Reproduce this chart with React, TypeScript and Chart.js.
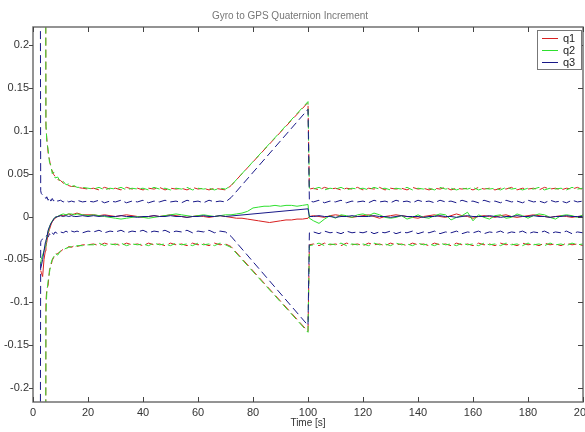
import React, { useEffect, useRef } from 'react';
import { Chart, registerables } from 'chart.js';
Chart.register(...registerables);

// time stamps [s]
const T = [
  0, 1, 2, 2.5, 2.8, 3, 3.5, 4, 4.5, 4.7, 5, 5.5, 6, 6.5, 7, 7.5, 8, 9, 10, 11, 12, 13, 14, 15, 16, 18, 20,
  22, 24, 26, 28, 30, 32, 34, 36, 38, 40, 42, 44, 46, 48, 50, 52, 54, 56, 58, 60, 62, 64, 66, 68, 70,
  72, 74, 76, 78, 80, 82, 84, 86, 88, 90, 92, 94, 96, 98, 100,
  100.5, 102, 104, 106, 108, 110, 112, 114, 116, 118, 120,
  122, 124, 126, 128, 130, 132, 134, 136, 138, 140,
  142, 144, 146, 148, 150, 152, 154, 156, 158, 160,
  162, 164, 166, 168, 170, 172, 174, 176, 178, 180,
  182, 184, 186, 188, 190, 192, 194, 196, 198, 200,
];

// estimates
const q1 = [
  null, null, null, null, -.063, -.065, -.07, -.05, -.04, -.035, -.03, -.02, -.015, -.01, -.006, -.004, -.002, 0, .001, .001, .002, .003, .002, .003, .004, .002, .002,
  .002, .001, .002, .001, 0, .001, .002, .001, 0, -.001, 0, .001, 0, .001, .002, .001, 0, -.001, 0, .001, 0, -.001, 0, .001, 0,
  -.001, -.002, -.002, -.003, -.004, -.005, -.006, -.007, -.006, -.005, -.004, -.004, -.003, -.003, -.002,
  0, .001, 0, -.001, .001, .002, .001, 0, -.001, 0, .001,
  .002, 0, -.002, 0, .001, .002, .001, 0, -.001, -.002,
  0, .001, .002, 0, -.001, .001, .003, .001, 0, -.002,
  0, .001, 0, -.001, .001, .002, 0, -.001, 0, .001,
  .002, .001, 0, -.001, 0, .001, 0, -.001, 0, .001,
];
const q2 = [
  null, null, null, null, -.055, -.05, -.045, -.04, -.035, -.03, -.025, -.018, -.012, -.008, -.005, -.003, -.001, 0, .002, .003, .002, .003, .003, .002, .003, .002, .001,
  .002, .001, 0, -.001, -.002, -.003, -.002, -.001, 0, -.001, -.002, -.001, 0, .001, .002, .003, .002, .001, 0, .001, .002, .001, 0, .001, .002,
  .002, .003, .004, .006, .01, .011, .012, .012, .013, .012, .013, .013, .012, .013, .014,
  -.002, -.005, -.008, -.003, .001, -.002, .002, .001, -.001, .002, .003,
  .001, .004, .002, -.001, -.002, -.001, .001, -.003, -.001, .002,
  -.001, -.002, .001, .003, .002, -.004, -.001, .001, .005, -.005,
  .002, -.001, -.003, .001, .002, -.002, -.001, .003, .001, -.002,
  .001, .003, .002, -.001, -.003, .001, .002, .001, -.001, .002,
];
const q3 = [
  null, null, null, null, -.06, -.058, -.05, -.04, -.03, -.028, -.025, -.016, -.012, -.008, -.006, -.003, -.001, 0, .001, 0, .001, 0, .001, 0, 0, .001, 0,
  .001, 0, .001, 0, 0, .001, 0, 0, -.001, 0, 0, .001, 0, 0, .001, 0, 0, -.001, 0, 0, .001, 0, 0, .001, 0,
  null, null, null, null, null, null, null, null, null, null, null, null, null, null, .009,
  0, 0, .001, 0, 0, -.001, 0, 0, .001, 0, 0,
  0, .001, 0, 0, -.001, 0, .001, 0, 0, 0,
  -.001, 0, 0, .001, 0, 0, -.001, 0, .001, 0,
  0, 0, .001, 0, -.001, 0, 0, .001, 0, 0,
  .001, 0, 0, -.001, 0, 0, .001, 0, 0, 0,
];

// uncertainty bounds
const q1Up = [
  .6, .6, .6, .6, .6, .6, .6, .6, .6, .105, .092, .074, .066, .057, .053, .049, .047, .043, .042, .039, .037, .036, .035, .035, .034, .033, .032,
  .033, .031, .034, .032, .033, .031, .034, .032, .033, .031, .033, .032, .034, .031, .033, .032, .033, .031, .034, .032, .033, .031, .033, .032, .031,
  .036, null, null, null, null, null, null, null, null, null, null, null, null, null, .133,
  .032, .033, .031, .034, .032, .033, .031, .033, .032, .034, .031,
  .033, .032, .034, .031, .033, .032, .033, .031, .034, .032,
  .033, .031, .033, .032, .034, .031, .033, .032, .033, .031,
  .034, .032, .033, .031, .033, .032, .034, .031, .033, .032,
  .033, .031, .034, .032, .033, .031, .033, .032, .034, .031,
];
const q1Lo = [
  -.6, -.6, -.6, -.6, -.6, -.6, -.6, -.6, -.6, -.1, -.085, -.08, -.062, -.058, -.051, -.048, -.044, -.043, -.041, -.038, -.038, -.035, -.036, -.034, -.035, -.033, -.033,
  -.032, -.034, -.031, -.033, -.032, -.034, -.031, -.033, -.032, -.034, -.031, -.033, -.032, -.034, -.031, -.033, -.032, -.034, -.031, -.033, -.032, -.034, -.031, -.033, -.032,
  -.035, null, null, null, null, null, null, null, null, null, null, null, null, null, -.134,
  -.033, -.032, -.034, -.031, -.033, -.032, -.034, -.031, -.033, -.032, -.034,
  -.031, -.033, -.032, -.034, -.031, -.033, -.032, -.034, -.031, -.033,
  -.032, -.034, -.031, -.033, -.032, -.034, -.031, -.033, -.032, -.034,
  -.031, -.033, -.032, -.034, -.031, -.033, -.032, -.034, -.031, -.033,
  -.032, -.034, -.031, -.033, -.032, -.034, -.031, -.033, -.032, -.034,
];
const q2Up = [
  .6, .6, .6, .6, .6, .6, .6, .6, .6, .11, .088, .078, .063, .06, .05, .052, .045, .046, .04, .041, .037, .038, .035, .036, .034, .034, .033,
  .032, .034, .031, .033, .032, .034, .031, .033, .032, .033, .031, .034, .032, .033, .031, .033, .032, .034, .031, .033, .032, .033, .031, .033, .032,
  .036, null, null, null, null, null, null, null, null, null, null, null, null, null, .134,
  .033, .032, .034, .031, .033, .032, .034, .031, .033, .032, .033,
  .031, .034, .032, .033, .031, .033, .032, .034, .031, .033,
  .032, .033, .031, .034, .032, .033, .031, .033, .032, .034,
  .031, .033, .032, .033, .031, .034, .032, .033, .031, .033,
  .032, .034, .031, .033, .032, .033, .031, .034, .032, .033,
];
const q2Lo = [
  -.6, -.6, -.6, -.6, -.6, -.6, -.6, -.6, -.6, -.115, -.09, -.075, -.065, -.055, -.05, -.047, -.043, -.045, -.04, -.039, -.037, -.036, -.035, -.036, -.034, -.034, -.033,
  -.033, -.031, -.034, -.032, -.033, -.031, -.034, -.032, -.033, -.032, -.034, -.031, -.033, -.032, -.034, -.031, -.033, -.032, -.034, -.031, -.033, -.032, -.034, -.031, -.033,
  -.036, null, null, null, null, null, null, null, null, null, null, null, null, null, -.135,
  -.034, -.033, -.031, -.034, -.032, -.033, -.031, -.034, -.032, -.033, -.032,
  -.034, -.031, -.033, -.032, -.034, -.031, -.033, -.032, -.034, -.031,
  -.033, -.032, -.034, -.031, -.033, -.032, -.034, -.031, -.033, -.032,
  -.034, -.031, -.033, -.032, -.034, -.031, -.033, -.032, -.034, -.031,
  -.033, -.032, -.034, -.031, -.033, -.032, -.034, -.031, -.033, -.032,
];
const q3Up = [
  .6, .6, .6, .6, .03, .027, .025, .023, .022, .021, .023, .019, .022, .018, .021, .018, .02, .018, .019, .017, .019, .017, .018, .017, .019, .017, .018,
  .017, .019, .016, .018, .017, .019, .016, .018, .017, .019, .016, .018, .017, .019, .017, .018, .016, .019, .017, .018, .016, .019, .017, .018, .017,
  .022, null, null, null, null, null, null, null, null, null, null, null, null, null, .125,
  .018, .017, .019, .016, .018, .017, .019, .016, .018, .017, .018,
  .016, .019, .017, .018, .016, .019, .017, .018, .016, .019,
  .017, .018, .016, .019, .017, .018, .016, .019, .017, .018,
  .016, .019, .017, .018, .016, .019, .017, .018, .016, .019,
  .017, .018, .016, .019, .017, .018, .016, .019, .017, .018,
];
const q3Lo = [
  -.6, -.6, -.6, -.6, -.03, -.028, -.026, -.025, -.024, -.023, -.022, -.024, -.02, -.022, -.019, -.021, -.018, -.02, -.018, -.019, -.017, -.019, -.017, -.018, -.017, -.019, -.017,
  -.018, -.016, -.019, -.017, -.018, -.016, -.019, -.017, -.018, -.016, -.019, -.017, -.018, -.016, -.019, -.017, -.018, -.016, -.019, -.017, -.018, -.016, -.019, -.017, -.018,
  -.023, null, null, null, null, null, null, null, null, null, null, null, null, null, -.127,
  -.019, -.018, -.02, -.017, -.019, -.018, -.02, -.017, -.019, -.018, -.019,
  -.017, -.02, -.018, -.019, -.017, -.02, -.018, -.019, -.017, -.02,
  -.018, -.019, -.017, -.02, -.018, -.019, -.017, -.02, -.018, -.019,
  -.017, -.02, -.018, -.019, -.017, -.02, -.018, -.019, -.017, -.02,
  -.018, -.019, -.017, -.02, -.018, -.019, -.017, -.02, -.018, -.019,
];

const xTicks = [0, 20, 40, 60, 80, 100, 120, 140, 160, 180, 200];
const yTicks = [-0.2, -0.15, -0.1, -0.05, 0, 0.05, 0.1, 0.15, 0.2];
const seriesNames = ['q1', 'q2', 'q3'];
const titleText = 'Gyro to GPS Quaternion Increment';
const xTitle = 'Time [s]';

const RED = '#d82020';
const GREEN = '#2ee02e';
const BLUE = '#181888';
const COLORS = [RED, GREEN, BLUE];
const FONT = '"Liberation Sans", Arial, Helvetica, sans-serif';

export default function App() {
  const ref = useRef<HTMLCanvasElement>(null);
  useEffect(() => {
    if (!ref.current) return;
    const pts = (arr: (number | null)[]) => T.map((t, i) => ({ x: t, y: arr[i] }));
    const line = (label: string, arr: (number | null)[], color: string, dashed: boolean) => ({
      label,
      data: pts(arr),
      borderColor: color,
      backgroundColor: color,
      borderWidth: 1,
      borderDash: dashed ? [8, 4] : [],
      pointRadius: 0,
      tension: 0,
      spanGaps: true,
      fill: false,
    });

    const decor = {
      id: 'decor',
      afterDatasetsDraw(chart: any) {
        const { ctx, chartArea: a, scales } = chart;
        ctx.save();
        // frame
        ctx.strokeStyle = '#707070';
        ctx.lineWidth = 1.5;
        ctx.setLineDash([]);
        ctx.strokeRect(a.left, a.top, a.right - a.left, a.bottom - a.top);
        // ticks
        ctx.lineWidth = 1;
        ctx.strokeStyle = '#444';
        ctx.beginPath();
        for (const v of xTicks) {
          const px = Math.round(scales.x.getPixelForValue(v)) + 0.5;
          ctx.moveTo(px, a.bottom);
          ctx.lineTo(px, a.bottom - 5);
          ctx.moveTo(px, a.top);
          ctx.lineTo(px, a.top + 5);
        }
        for (const v of yTicks) {
          const py = Math.round(scales.y.getPixelForValue(v)) + 0.5;
          ctx.moveTo(a.left - 4, py);
          ctx.lineTo(a.left, py);
          ctx.moveTo(a.right, py);
          ctx.lineTo(a.right - 5, py);
        }
        ctx.stroke();
        // legend
        const lx = a.right - 46, ly = a.top + 2.5, lw = 44, lh = 39;
        ctx.fillStyle = '#fff';
        ctx.fillRect(lx, ly, lw, lh);
        ctx.strokeStyle = '#777';
        ctx.strokeRect(Math.round(lx) + 0.5, Math.round(ly) + 0.5, lw, lh);
        ctx.font = '11px ' + FONT;
        ctx.textBaseline = 'middle';
        ctx.textAlign = 'left';
        seriesNames.forEach((n, i) => {
          const yy = Math.round(ly + 8 + i * 12) + 0.5;
          ctx.strokeStyle = COLORS[i];
          ctx.beginPath();
          ctx.moveTo(lx + 5, yy);
          ctx.lineTo(lx + 21, yy);
          ctx.stroke();
          ctx.fillStyle = '#222';
          ctx.fillText(n, lx + 26, yy);
        });
        ctx.restore();
      },
      afterDraw(chart: any) {
        const { ctx } = chart;
        ctx.save();
        ctx.font = '10px ' + FONT;
        ctx.fillStyle = '#777';
        ctx.textAlign = 'center';
        ctx.textBaseline = 'middle';
        ctx.fillText(titleText, 290, 16);
        ctx.restore();
      },
    };

    const tickFont = { family: FONT, size: 11 };
    const chart = new Chart(ref.current, {
      type: 'line',
      data: {
        datasets: [
          line('q3', q3, BLUE, false),
          line('q2', q2, GREEN, false),
          line('q1', q1, RED, false),
          line('q3 upper', q3Up, BLUE, true),
          line('q3 lower', q3Lo, BLUE, true),
          line('q2 upper', q2Up, GREEN, true),
          line('q2 lower', q2Lo, GREEN, true),
          line('q1 upper', q1Up, RED, true),
          line('q1 lower', q1Lo, RED, true),
        ] as any,
      },
      options: {
        animation: false,
        responsive: false,
        layout: { padding: { top: 27, right: 17, left: 0, bottom: 0 } },
        plugins: {
          legend: { display: false },
          title: { display: false },
          tooltip: { enabled: false },
        },
        scales: {
          x: {
            type: 'linear',
            min: 0,
            max: 200,
            afterBuildTicks: (s: any) => { s.ticks = xTicks.map((v) => ({ value: v })); },
            afterFit: (s: any) => { s.height = 30; },
            grid: { display: false, drawTicks: false },
            border: { display: false },
            ticks: { font: tickFont, color: '#333', padding: 4, autoSkip: false, maxRotation: 0, callback: (v: any) => String(v) },
            title: { display: true, text: xTitle, font: { family: FONT, size: 10 }, color: '#333', padding: { top: 0, bottom: 3 } },
          },
          y: {
            type: 'linear',
            min: -0.2163,
            max: 0.221,
            afterBuildTicks: (s: any) => { s.ticks = yTicks.map((v) => ({ value: v })); },
            afterFit: (s: any) => { s.width = 33; },
            grid: { display: false, drawTicks: false },
            border: { display: false },
            ticks: { font: tickFont, color: '#333', padding: 4, autoSkip: false, callback: (v: any) => String(v) },
          },
        },
      } as any,
      plugins: [decor],
    });
    return () => chart.destroy();
  }, []);

  return (
    <div style={{ position: 'fixed', left: 0, top: 0, width: 585, height: 432, overflow: 'hidden', background: '#fff' }}>
      <canvas ref={ref} width={600} height={432} style={{ display: 'block' }} />
    </div>
  );
}
